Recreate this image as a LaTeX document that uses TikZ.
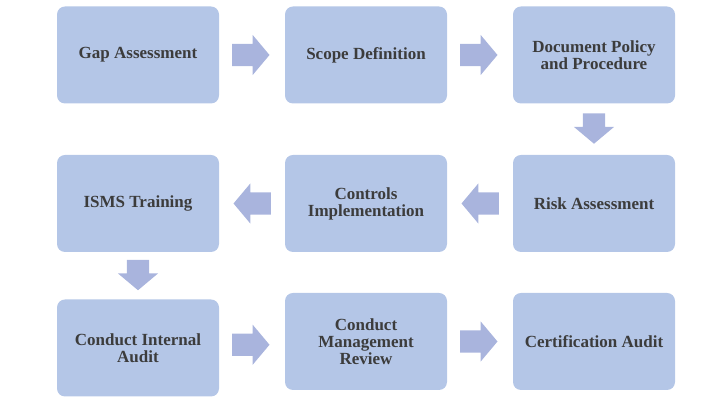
\documentclass[tikz,border=0pt]{standalone}
\usepackage{fontspec}
\setmainfont{Liberation Serif}
\usetikzlibrary{shapes.arrows,calc}
\definecolor{boxblue}{HTML}{B4C6E7}
\definecolor{arrowblue}{HTML}{A9B4DD}
\definecolor{textgray}{HTML}{3C3C3C}
\newcommand{\shaft}{\hspace*{27.5pt}}
\newcommand{\downshaft}{\hspace*{20.5pt}}
\begin{document}
\begin{tikzpicture}[x=1pt,y=1pt,every node/.style={font=\fontsize{17}{17}\selectfont\bfseries,text=textgray}]
\tikzset{stage/.style={fill=boxblue,rounded corners=8pt,align=center,minimum width=162pt,minimum height=97pt,inner sep=2pt}, flow/.style={single arrow,fill=arrowblue,anchor=tail,single arrow head extend=9pt,single arrow tip angle=100,inner xsep=0pt,inner ysep=11pt}}
\useasboundingbox (0,0) rectangle (724,406);
\node[stage] (gap) at (138,351) {Gap Assessment};
\node[stage] (scope) at (366,351) {Scope Definition};
\node[stage] (policy) at (594,351) {Document Policy\\and Procedure};
\node[stage] (risk) at (594,202.5) {Risk Assessment};
\node[stage] (controls) at (366,202.5) {Controls\\Implementation};
\node[stage] (training) at (138,202.5) {ISMS Training};
\node[stage] (internal) at (138,58) {Conduct Internal\\Audit};
\node[stage] (review) at (366,64.5) {Conduct\\Management\\Review};
\node[stage] (cert) at (594,64.5) {Certification Audit};
\node[flow] (gapscope) at ($(gap.east)!0.5!(scope.west)+(-20,0)$) {\shaft};
\node[flow] (scopepolicy) at ($(scope.east)!0.5!(policy.west)+(-20,0)$) {\shaft};
\node[flow,rotate=-90] (policyrisk) at ($(policy.south)!0.5!(risk.north)+(0,16)$) {\downshaft};
\node[flow,rotate=180] (riskcontrols) at ($(risk.west)!0.5!(controls.east)+(19,0)$) {\shaft};
\node[flow,rotate=180] (controlstraining) at ($(controls.west)!0.5!(training.east)+(19,0)$) {\shaft};
\node[flow,rotate=-90] (traininginternal) at ($(training.south)!0.5!(internal.north)+(0,16)$) {\downshaft};
\node[flow] (internalreview) at ($(internal.east)!0.5!(review.west)+(-20,0)$) {\shaft};
\node[flow] (reviewcert) at ($(review.east)!0.5!(cert.west)+(-20,0)$) {\shaft};
\end{tikzpicture}
\end{document}
